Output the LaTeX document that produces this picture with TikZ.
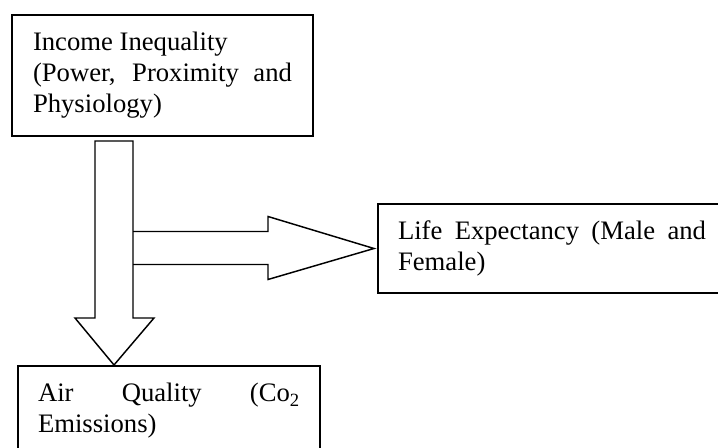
\documentclass[tikz,border=0pt]{standalone}
\usepackage{fontspec}
\setmainfont{Liberation Serif}
\usetikzlibrary{calc}
\newcommand{\boxfont}{\fontsize{20pt}{23.25pt}\selectfont}
\begin{document}
\begin{tikzpicture}[x=0.75pt,y=-0.75pt,
  box/.style={draw, line width=1.5pt, align=justify, anchor=north west,
    inner ysep=0pt, font=\boxfont},
  blockarrow/.style={draw, line width=1.1pt, line join=miter}]
\useasboundingbox (0,0) rectangle (718,448);
\clip (0,0) rectangle (718,448);
\node[box, text width=194.25pt, inner xsep=15.75pt, minimum height=90.75pt]
  (inc) at (11,14) {\boxfont Income Inequality\\ (Power, Proximity and\linebreak Physiology)};
\node[box, text width=231pt, inner xsep=15pt, minimum height=66.75pt]
  (life) at (377,203) {\boxfont Life Expectancy (Male and\linebreak Female)};
\node[box, text width=196.5pt, inner xsep=15pt, minimum height=67.5pt]
  (air) at (17,365) {\boxfont Air Quality (Co\textsubscript{2}\linebreak Emissions)};
% vertical block arrow
\coordinate (vtip) at ($(air.north west)+(97,0)$);
\draw[blockarrow] ($(inc.south west)+(84,4)$) coordinate (vtl)
  -- ++(38,0) coordinate (vtr)
  -- ($(vtip)+(19,-47)$) -- ($(vtip)+(40,-47)$) -- (vtip)
  -- ($(vtip)+(-39,-47)$) -- ($(vtip)+(-19,-47)$) -- cycle;
% horizontal block arrow
\coordinate (htip) at ($(life.west)+(-3,0)$);
\draw[blockarrow] ($(htip)+(-241,-17)$) -- ($(htip)+(-106,-17)$)
  -- ($(htip)+(-106,-32)$) -- (htip) -- ($(htip)+(-106,31)$)
  -- ($(htip)+(-106,16)$) -- ($(htip)+(-241,16)$);
\end{tikzpicture}
\end{document}
